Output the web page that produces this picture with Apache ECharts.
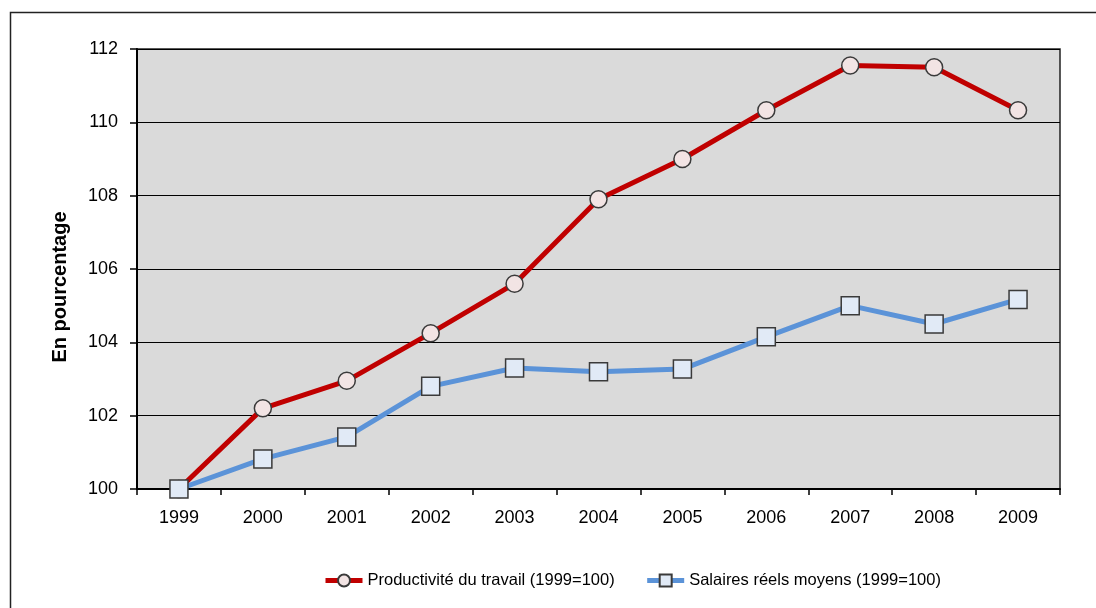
<!DOCTYPE html>
<html>
<head>
<meta charset="utf-8">
<script src="https://cdn.jsdelivr.net/npm/echarts@6/dist/echarts.min.js"></script>
<style>
  html, body { margin: 0; padding: 0; background: #fff; }
  #chart { width: 1096px; height: 608px; }
</style>
</head>
<body>
<div id="chart"></div>
<script>
const years = ['1999', '2000', '2001', '2002', '2003', '2004', '2005', '2006', '2007', '2008', '2009']
const productivite = [100, 102.2, 102.95, 104.25, 105.6, 107.9, 109.0, 110.33, 111.55, 111.5, 110.33]
const salaires = [100, 100.82, 101.42, 102.8, 103.3, 103.2, 103.27, 104.15, 105.0, 104.5, 105.17]
const yTitle = 'En pourcentage'

const font = '"Liberation Sans", Arial, sans-serif'

const chart = echarts.init(document.getElementById('chart'))

chart.setOption({
  animation: false,
  textStyle: { fontFamily: font },
  graphic: [
    {
      type: 'rect',
      shape: { x: 10.5, y: 12.5, width: 1200, height: 700 },
      style: { fill: 'none', stroke: '#222', lineWidth: 1.5 },
      silent: true
    },
    {
      type: 'text',
      x: 60,
      y: 287,
      rotation: Math.PI / 2,
      style: {
        text: yTitle,
        fontSize: 20,
        fontWeight: 'bold',
        fontFamily: font,
        fill: '#000',
        align: 'center',
        verticalAlign: 'middle'
      },
      silent: true
    }
  ],
  grid: {
    left: 137,
    right: 36,
    top: 49,
    bottom: 119,
    show: true,
    backgroundColor: '#dadada',
    borderColor: '#222',
    borderWidth: 1.5
  },
  legend: {
    top: 567,
    left: 318,
    itemWidth: 37,
    itemHeight: 15,
    itemGap: 30,
    lineStyle: { width: 5 },
    textStyle: { fontSize: 16.5, color: '#000', fontFamily: font },
    data: [
      { name: 'Productivité du travail (1999=100)' },
      { name: 'Salaires réels moyens (1999=100)' }
    ]
  },
  xAxis: {
    type: 'category',
    data: years,
    boundaryGap: true,
    axisLine: { lineStyle: { color: '#000', width: 2 } },
    axisTick: { show: true, length: 6, lineStyle: { color: '#000', width: 1.5 } },
    axisLabel: { color: '#000', fontSize: 18, margin: 20 }
  },
  yAxis: {
    type: 'value',
    min: 100,
    max: 112,
    interval: 2,
    axisLine: { show: true, lineStyle: { color: '#000', width: 2 } },
    axisTick: { show: true, length: 7, lineStyle: { color: '#000', width: 1.5 } },
    axisLabel: { color: '#000', fontSize: 18, margin: 19 },
    splitLine: { lineStyle: { color: '#000', width: 1.2 } }
  },
  series: [
    {
      name: 'Productivité du travail (1999=100)',
      type: 'line',
      data: productivite,
      symbol: 'circle',
      symbolSize: 17,
      lineStyle: { color: '#c00000', width: 5 },
      itemStyle: { color: '#f2e4e4', borderColor: '#3a3a3a', borderWidth: 1.5 },
      z: 3
    },
    {
      name: 'Salaires réels moyens (1999=100)',
      type: 'line',
      data: salaires,
      symbol: 'rect',
      symbolSize: 18,
      lineStyle: { color: '#5b93d8', width: 5 },
      itemStyle: { color: '#e1eaf6', borderColor: '#3a3a3a', borderWidth: 1.5 },
      z: 4
    }
  ]
})

window.addEventListener('resize', () => chart.resize())
</script>
</body>
</html>
